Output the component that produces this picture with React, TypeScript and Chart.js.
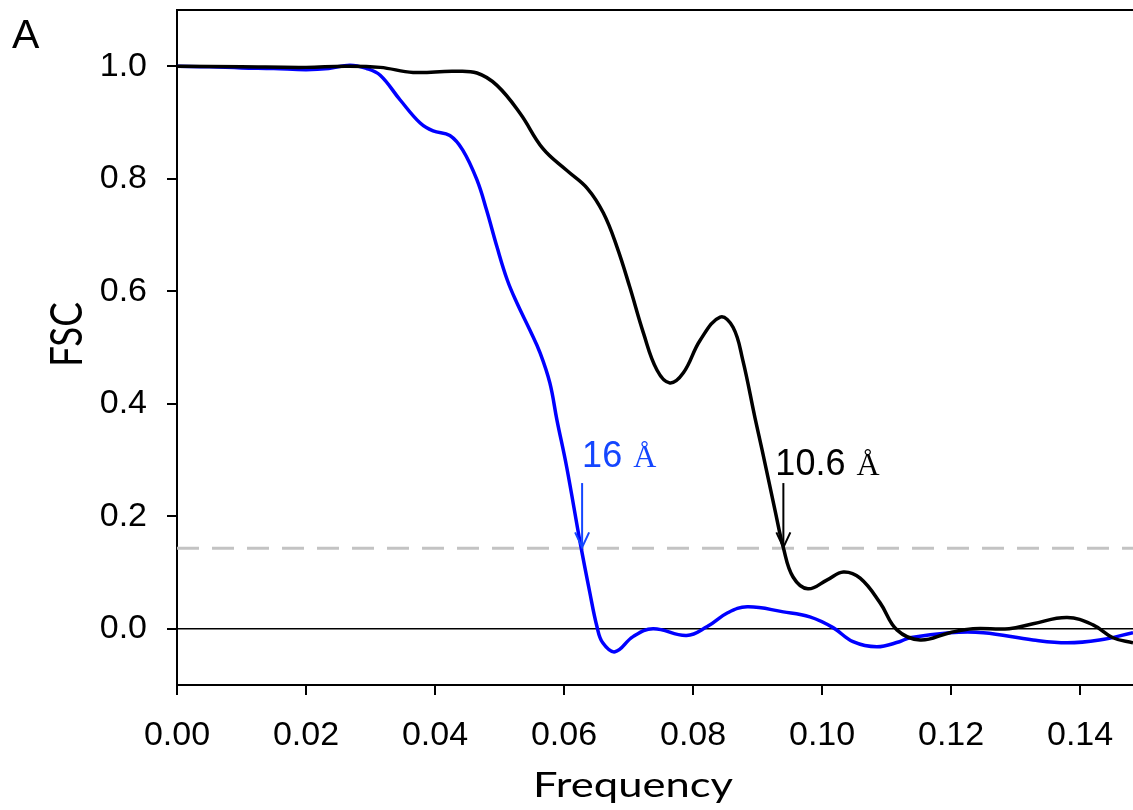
import React, { useEffect, useRef } from "react";
import { Chart, registerables } from "chart.js";

Chart.register(...registerables);

// ---- data ----
const xTickValues = [0, 0.02, 0.04, 0.06, 0.08, 0.1, 0.12, 0.14];
const yTickValues = [0, 0.2, 0.4, 0.6, 0.8, 1.0];
const xMin = 0;
const xMax = 0.1482;
const yMin = -0.1;
const yMax = 1.1;

const freqBlack = [0, 0.01, 0.02, 0.026, 0.0315, 0.0366, 0.0428, 0.0465, 0.0496, 0.0532, 0.0567, 0.0604, 0.0636, 0.0661, 0.0682, 0.0702, 0.0723, 0.0744, 0.0764, 0.0785, 0.0811, 0.0842, 0.0862, 0.0877, 0.0896, 0.0907, 0.0927, 0.094, 0.0955, 0.0978, 0.1008, 0.1033, 0.1059, 0.109, 0.1116, 0.1152, 0.1198, 0.1234, 0.129, 0.1327, 0.138, 0.142, 0.1451, 0.1482];
const fscBlack = [1.0, 0.999, 0.998, 1.0, 0.998, 0.989, 0.991, 0.988, 0.966, 0.916, 0.854, 0.815, 0.783, 0.739, 0.679, 0.607, 0.526, 0.46, 0.437, 0.455, 0.513, 0.554, 0.536, 0.478, 0.375, 0.318, 0.211, 0.144, 0.092, 0.071, 0.087, 0.101, 0.09, 0.046, -0.002, -0.02, -0.007, 0.0, 0.0, 0.009, 0.02, 0.007, -0.016, -0.025];

const freqBlue = [0, 0.005, 0.01, 0.015, 0.02, 0.0235, 0.0268, 0.0294, 0.0315, 0.0346, 0.0377, 0.0397, 0.0423, 0.0443, 0.0465, 0.048, 0.0496, 0.0512, 0.0527, 0.0547, 0.0563, 0.0578, 0.0589, 0.0604, 0.0625, 0.064, 0.0651, 0.066, 0.0679, 0.0707, 0.0738, 0.079, 0.0822, 0.0853, 0.0884, 0.094, 0.0981, 0.1017, 0.1048, 0.1085, 0.112, 0.1136, 0.1198, 0.125, 0.1327, 0.138, 0.143, 0.1482];
const fscBlue = [1.0, 0.999, 0.997, 0.996, 0.994, 0.996, 1.002, 0.996, 0.984, 0.94, 0.899, 0.885, 0.877, 0.851, 0.798, 0.744, 0.679, 0.62, 0.579, 0.531, 0.49, 0.437, 0.371, 0.288, 0.153, 0.064, 0.004, -0.025, -0.041, -0.014, 0.0, -0.012, 0.004, 0.028, 0.039, 0.03, 0.021, 0.002, -0.023, -0.032, -0.023, -0.016, -0.007, -0.007, -0.02, -0.025, -0.02, -0.007];

const threshold = 0.143;
const arrowFreqs = [0.0628, 0.094];
const arrowTailFsc = 0.259;
const arrowNumbers = ["16", "10.6"];
const arrowUnit = "Å";
const xTitle = "Frequency";
const yTitle = "FSC";
const panelLabel = "A";

const BLUE_LINE = "#0000ff";
const BLUE_TEXT = "#1446ff";
const arrowColors = [BLUE_TEXT, "#000000"];

const SANS = "'Liberation Sans', Arial, sans-serif";
const SERIF = "'Liberation Serif', 'Times New Roman', serif";
const TITLE = "Lato, 'Noto Sans', sans-serif";

function drawStretched(ctx: CanvasRenderingContext2D, text: string, family: string, size: number, x: number, y: number, targetW: number, targetCap: number, capRatio: number, rotate: boolean) {
  ctx.save();
  ctx.font = `${size}px ${family}`;
  const w = ctx.measureText(text).width;
  const sx = targetW / w;
  const sy = targetCap / (capRatio * size);
  ctx.translate(x, y);
  if (rotate) ctx.rotate(-Math.PI / 2);
  ctx.scale(sx, sy);
  ctx.textAlign = "left";
  ctx.textBaseline = "alphabetic";
  ctx.fillText(text, 0, 0);
  ctx.restore();
}

const overlayPlugin = {
  id: "overlay",
  afterDatasetsDraw(chart: any) {
    const { ctx, chartArea, scales } = chart;
    const xs = scales.x;
    const ys = scales.y;
    ctx.save();
    // top frame line
    ctx.strokeStyle = "#000";
    ctx.lineWidth = 2;
    ctx.beginPath();
    ctx.moveTo(chartArea.left, chartArea.top);
    ctx.lineTo(chartArea.right, chartArea.top);
    ctx.stroke();

    // arrows + labels
    const yTip = ys.getPixelForValue(threshold);
    const yTail = ys.getPixelForValue(arrowTailFsc);
    const labelDx = [0, -8];
    const labelDy = [-16, -8];
    arrowFreqs.forEach((f, i) => {
      const x = xs.getPixelForValue(f);
      const c = arrowColors[i];
      ctx.strokeStyle = c;
      ctx.fillStyle = c;
      ctx.lineWidth = 2;
      ctx.beginPath();
      ctx.moveTo(x, yTail);
      ctx.lineTo(x, yTip - 1);
      ctx.stroke();
      ctx.beginPath();
      ctx.moveTo(x - 7, yTip - 16);
      ctx.lineTo(x, yTip - 1);
      ctx.lineTo(x + 7, yTip - 16);
      ctx.stroke();

      const tx = x + labelDx[i];
      const ty = yTail + labelDy[i];
      ctx.textAlign = "left";
      ctx.textBaseline = "alphabetic";
      ctx.font = `36px ${SANS}`;
      const num = arrowNumbers[i];
      ctx.fillText(num, tx, ty);
      const nw = ctx.measureText(num).width;
      ctx.font = `32px ${SERIF}`;
      ctx.fillText(arrowUnit, tx + nw + 11, ty);
    });

    // axis titles
    ctx.fillStyle = "#000";
    drawStretched(ctx, xTitle, TITLE, 35, 533, 797, 200, 25, 0.7165, false);
    drawStretched(ctx, yTitle, TITLE, 38, 82, 367, 65, 32, 0.7165, true);

    // panel label
    ctx.font = `41px ${SANS}`;
    ctx.textAlign = "left";
    ctx.textBaseline = "alphabetic";
    ctx.fillText(panelLabel, 12, 48);
    ctx.restore();
  },
};

export default function App() {
  const ref = useRef<HTMLCanvasElement | null>(null);
  useEffect(() => {
    if (!ref.current) return;
    const toXY = (xs: number[], ys: number[]) => xs.map((x, i) => ({ x, y: ys[i] }));
    const chart = new Chart(ref.current, {
      type: "line",
      data: {
        datasets: [
          {
            label: "map 2",
            data: toXY(freqBlack, fscBlack),
            borderColor: "#000000",
            borderWidth: 3.5,
            pointRadius: 0,
            tension: 0.4,
            order: 0,
          },
          {
            label: "map 1",
            data: toXY(freqBlue, fscBlue),
            borderColor: BLUE_LINE,
            borderWidth: 3.5,
            pointRadius: 0,
            tension: 0.4,
            order: 1,
          },
          {
            label: "zero",
            data: [{ x: xMin, y: 0 }, { x: xMax, y: 0 }],
            borderColor: "#000000",
            borderWidth: 1.5,
            pointRadius: 0,
            order: 2,
          },
          {
            label: "threshold",
            data: [{ x: xMin, y: threshold }, { x: xMax, y: threshold }],
            borderColor: "#c3c3c3",
            borderWidth: 3,
            borderDash: [22, 13],
            pointRadius: 0,
            order: 3,
          },
        ],
      },
      options: {
        responsive: false,
        animation: false,
        devicePixelRatio: 1,
        layout: { padding: { top: 10, left: 0, right: 0, bottom: 0 } },
        plugins: { legend: { display: false }, tooltip: { enabled: false } },
        scales: {
          x: {
            type: "linear",
            min: xMin,
            max: xMax,
            afterBuildTicks: (s: any) => {
              s.ticks = xTickValues.map((v) => ({ value: v }));
            },
            afterFit: (s: any) => {
              s.height = 125;
              s.paddingLeft = 0;
              s.paddingRight = 0;
              s.paddingTop = 0;
              s.paddingBottom = 0;
            },
            ticks: {
              color: "#000",
              font: { family: SANS, size: 34 },
              padding: 20,
              maxRotation: 0,
              autoSkip: false,
              callback: (v: any) => Number(v).toFixed(2),
            },
            grid: { drawOnChartArea: false, drawTicks: true, tickLength: 10, color: "#000", lineWidth: 2 },
            border: { display: true, color: "#000", width: 2 },
          },
          y: {
            type: "linear",
            min: yMin,
            max: yMax,
            afterBuildTicks: (s: any) => {
              s.ticks = yTickValues.map((v) => ({ value: v }));
            },
            afterFit: (s: any) => {
              s.width = 177;
              s.paddingLeft = 0;
              s.paddingRight = 0;
              s.paddingTop = 0;
              s.paddingBottom = 0;
            },
            ticks: {
              color: "#000",
              font: { family: SANS, size: 34 },
              padding: 20,
              autoSkip: false,
              callback: (v: any) => Number(v).toFixed(1),
            },
            grid: { drawOnChartArea: false, drawTicks: true, tickLength: 10, color: "#000", lineWidth: 2 },
            border: { display: true, color: "#000", width: 2 },
          },
        },
      },
      plugins: [overlayPlugin],
    } as any);
    return () => chart.destroy();
  }, []);
  return (
    <div style={{ position: "fixed", left: 0, top: 0, width: 1133, height: 810, background: "#fff" }}>
      <canvas ref={ref} width={1133} height={810} style={{ width: 1133, height: 810, display: "block" }} />
    </div>
  );
}
